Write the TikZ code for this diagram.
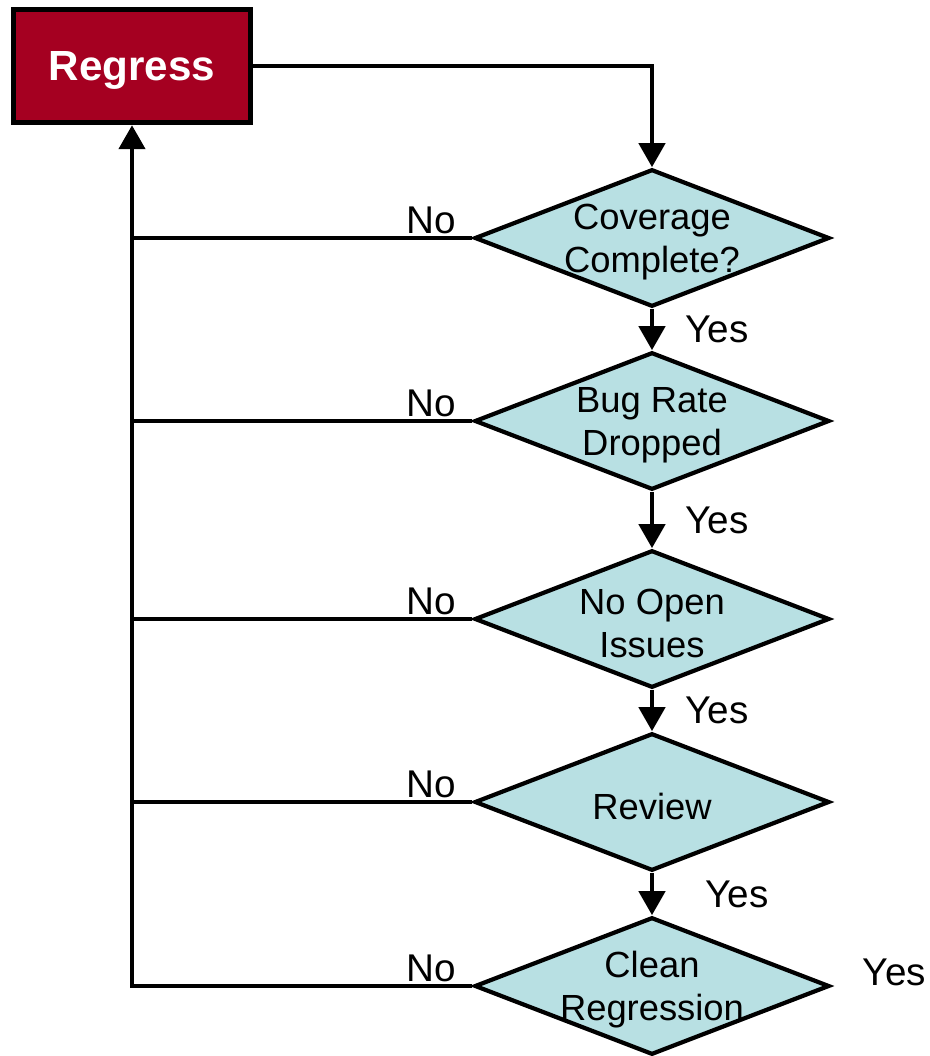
\documentclass[tikz,border=0pt]{standalone}
\usepackage{fontspec}
\setmainfont{Liberation Sans}
\usetikzlibrary{shapes.geometric,arrows.meta}
\definecolor{regred}{HTML}{A50021}
\definecolor{decfill}{HTML}{B8E0E3}
\tikzset{
  decision/.style={diamond,draw,fill=decfill,line width=2.4pt,inner sep=0pt,
    minimum width=7.1cm,minimum height=2.75cm},
  dlabel/.style={align=center,inner sep=0pt,yshift=-0.08cm,font=\fontsize{20.7}{24.5}\selectfont},
  arr/.style={-{Triangle[width=0.52cm,length=0.48cm]}},
  nolab/.style={anchor=south east,inner sep=1pt,xshift=-0.24cm,font=\fontsize{22}{26}\selectfont},
  yeslab/.style={anchor=west,inner sep=0pt,xshift=0.62cm,font=\fontsize{22}{26}\selectfont}
}
\begin{document}
\begin{tikzpicture}[x=0.02cm,y=-0.02cm,line width=2.6pt]
        \useasboundingbox (0,0) rectangle (930,1056);

        \node[draw,fill=regred,line width=2.8pt,minimum width=4.75cm,minimum height=2.27cm,
          text=white,text depth=0pt,font=\bfseries\fontsize{24}{28}\selectfont] (reg) at (132,66) {Regress};

        \begin{scope}[every node/.style={decision}]
          \node[label={[dlabel]center:Coverage\\Complete?}] (cov) at (652,238) {};
          \node[label={[dlabel]center:Bug Rate\\Dropped}]   (bug) at (652,421) {};
          \node[label={[dlabel]center:No Open\\Issues}]     (iss) at (652,619) {};
          \node[label={[dlabel]center:Review}]              (rev) at (652,802) {};
          \node[label={[dlabel]center:Clean\\Regression}]   (cln) at (652,986) {};
        \end{scope}

        \node[anchor=base west,inner sep=0pt,xshift=0.58cm,yshift=0.02cm,font=\fontsize{22}{26}\selectfont]
          (yesend) at (cln.east) {Yes};

        \draw[arr] (reg.east) -| (cov.north);

        \begin{scope}[every path/.style={arr}]
          \path (cov) edge node[yeslab] {Yes} (bug);
          \path (bug) edge node[yeslab] {Yes} (iss);
          \path (iss) edge node[yeslab] {Yes} (rev);
          \path (rev) edge node[yeslab,xshift=0.4cm] {Yes} (cln);
        \end{scope}

        \draw (cov.west) -- node[nolab,pos=0] {No} (cov.west -| reg.south);
        \draw (bug.west) -- node[nolab,pos=0] {No} (bug.west -| reg.south);
        \draw (iss.west) -- node[nolab,pos=0] {No} (iss.west -| reg.south);
        \draw (rev.west) -- node[nolab,pos=0] {No} (rev.west -| reg.south);
        \draw[arr] (cln.west) -- node[nolab,pos=0] {No} (cln.west -| reg.south) -- (reg.south);

\end{tikzpicture}
\end{document}
